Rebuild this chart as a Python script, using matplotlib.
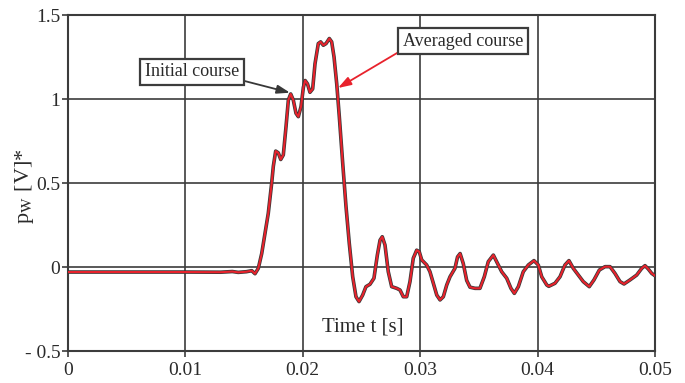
import matplotlib
matplotlib.use("Agg")
import matplotlib.pyplot as plt
from matplotlib.ticker import FixedLocator, FixedFormatter

plt.rcParams["font.family"] = ["Liberation Serif", "DejaVu Serif"]
plt.rcParams["mathtext.fontset"] = "stix"

# time [s] and signal p_W [V]*
time_s = [
    0.0, 0.005, 0.010, 0.0130, 0.0140, 0.0145, 0.0152, 0.01565, 0.01593, 0.01621,
    0.01650, 0.01678, 0.01706, 0.01735, 0.01749, 0.01769, 0.01791, 0.01812, 0.01834, 0.01857,
    0.01877, 0.01897, 0.01919, 0.01942, 0.01962, 0.01985, 0.02005, 0.02020, 0.02040, 0.02061,
    0.02084, 0.02104, 0.02132, 0.02152, 0.02175, 0.02198, 0.02226, 0.02246, 0.02266, 0.02289,
    0.02311, 0.02340, 0.02368, 0.02396, 0.02425, 0.02453, 0.02479, 0.02510, 0.02538, 0.02572,
    0.02606, 0.02635, 0.02658, 0.02677, 0.02700, 0.02728, 0.02757, 0.02800, 0.02828, 0.02856,
    0.02885, 0.02913, 0.02941, 0.02970, 0.02992, 0.03013, 0.03055, 0.03083, 0.03112, 0.03141,
    0.03169, 0.03197, 0.03226, 0.03254, 0.03296, 0.03318, 0.03340, 0.03367, 0.03396, 0.03424,
    0.03467, 0.03509, 0.03546, 0.03580, 0.03623, 0.03651, 0.03694, 0.03737, 0.03773, 0.03802,
    0.03836, 0.03878, 0.03921, 0.03969, 0.04006, 0.04035, 0.04078, 0.04095, 0.04148, 0.04191,
    0.04233, 0.04267, 0.04304, 0.04347, 0.04389, 0.04440, 0.04480, 0.04526, 0.04574, 0.04617,
    0.04659, 0.04702, 0.04736, 0.04787, 0.04844, 0.04887, 0.04915, 0.04943, 0.04972, 0.05,
]
initial_course = [
    -0.030, -0.030, -0.030, -0.031, -0.027, -0.032, -0.028, -0.022, -0.040, -0.008,
    0.080, 0.200, 0.320, 0.500, 0.600, 0.690, 0.680, 0.640, 0.667, 0.835,
    0.994, 1.030, 0.994, 0.915, 0.895, 0.955, 1.070, 1.110, 1.090, 1.040,
    1.060, 1.210, 1.330, 1.340, 1.320, 1.330, 1.360, 1.340, 1.250, 1.090,
    0.895, 0.617, 0.360, 0.140, -0.058, -0.177, -0.206, -0.167, -0.117, -0.103,
    -0.067, 0.071, 0.160, 0.180, 0.131, -0.028, -0.117, -0.127, -0.137, -0.177,
    -0.177, -0.087, 0.052, 0.100, 0.091, 0.042, 0.012, -0.028, -0.097, -0.167,
    -0.196, -0.177, -0.107, -0.058, -0.008, 0.060, 0.080, 0.020, -0.080, -0.120,
    -0.127, -0.127, -0.058, 0.032, 0.071, 0.032, -0.028, -0.067, -0.127, -0.157,
    -0.117, -0.028, 0.012, 0.038, 0.012, -0.058, -0.107, -0.115, -0.097, -0.058,
    0.012, 0.038, -0.008, -0.048, -0.087, -0.117, -0.077, -0.018, 0.002, 0.002,
    -0.038, -0.087, -0.101, -0.077, -0.048, -0.008, 0.008, -0.012, -0.038, -0.052,
]
averaged_course = list(initial_course)

x_ticks = [0, 0.01, 0.02, 0.03, 0.04, 0.05]
x_tick_labels = ["0", "0.01", "0.02", "0.03", "0.04", "0.05"]
y_ticks = [-0.5, 0, 0.5, 1, 1.5]
y_tick_labels = ["- 0.5", "0", "0.5", "1", "1.5"]

grid_col = "#3c3c3c"
text_col = "#2a2a2a"

fig = plt.figure(figsize=(6.85, 3.83), dpi=100)
ax = fig.add_axes([68 / 685, 1 - 351 / 383, 587 / 685, 336 / 383])

ax.plot(time_s, initial_course, color="#383838", lw=2.6, solid_joinstyle="round", zorder=3)
ax.plot(time_s, averaged_course, color="#e8222c", lw=1.5, solid_joinstyle="round", zorder=4)

ax.set_xlim(0, 0.05)
ax.set_ylim(-0.5, 1.5)
ax.xaxis.set_major_locator(FixedLocator(x_ticks))
ax.xaxis.set_major_formatter(FixedFormatter(x_tick_labels))
ax.yaxis.set_major_locator(FixedLocator(y_ticks))
ax.yaxis.set_major_formatter(FixedFormatter(y_tick_labels))
ax.tick_params(direction="out", length=4, width=1.2, color=grid_col,
               labelsize=14, labelcolor=text_col, pad=1.5)
ax.tick_params(axis="x", pad=4)
ax.grid(True, color=grid_col, lw=1.2)
for s in ax.spines.values():
    s.set_color(grid_col)
    s.set_linewidth(1.5)

ax.text(0.02513, -0.36, "Time t [s]", ha="center", va="center", fontsize=15, color=text_col)
fig.text(25 / 685, 1 - 186 / 383, r"p$_{\mathrm{W}}$ [V]*", rotation=90,
         ha="center", va="center", fontsize=16, color=text_col)

box = dict(boxstyle="square,pad=0.25", fc="white", ec=grid_col, lw=1.6)
ax.annotate("Initial course", xy=(0.01891, 1.0375), xytext=(0.01056, 1.161),
            ha="center", va="center", fontsize=13, color=text_col, bbox=box,
            arrowprops=dict(arrowstyle="-|>,head_length=0.6,head_width=0.2",
                            color="#383838", lw=1.3, relpos=(1, 0.05),
                            shrinkA=0, shrinkB=0), zorder=5)
ax.annotate("Averaged course", xy=(0.0230, 1.0655), xytext=(0.03365, 1.345),
            ha="center", va="center", fontsize=13, color=text_col, bbox=box,
            arrowprops=dict(arrowstyle="-|>,head_length=0.6,head_width=0.2",
                            color="#e8222c", lw=1.3, relpos=(0, 0),
                            shrinkA=0, shrinkB=0), zorder=5)

fig.savefig("out.png", dpi=100)
